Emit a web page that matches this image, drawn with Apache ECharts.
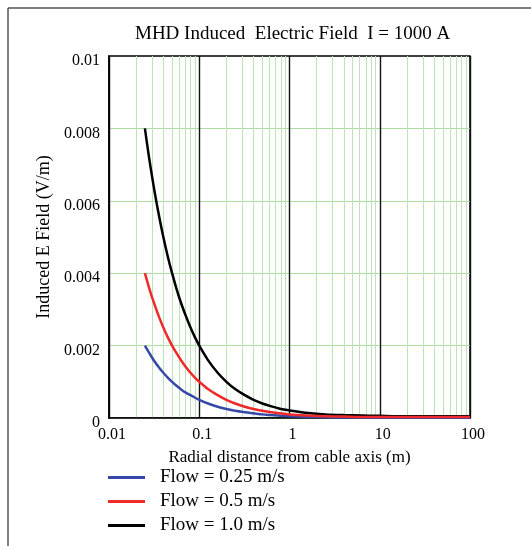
<!DOCTYPE html>
<html>
<head>
<meta charset="utf-8">
<script src="https://cdn.jsdelivr.net/npm/echarts@6/dist/echarts.min.js"></script>
<style>
html,body{margin:0;padding:0;background:#fff;}
#c{width:531px;height:546px;}
</style>
</head>
<body>
<div id="c"></div>
<script>
// Radial distance (m)
const radius = [0.025, 0.028, 0.032, 0.036, 0.04, 0.045, 0.05, 0.056, 0.063, 0.071, 0.08, 0.09, 0.1, 0.125, 0.16, 0.2, 0.25, 0.32, 0.4, 0.5, 0.63, 0.8, 1, 1.6, 2.5, 4, 6.3, 10, 16, 25, 40, 63, 100];
// Induced E field (V/m)
const flow100 = [0.0080, 0.00714, 0.00625, 0.00556, 0.0050, 0.00444, 0.0040, 0.00357, 0.00317, 0.00282, 0.0025, 0.00222, 0.0020, 0.0016, 0.00125, 0.0010, 0.0008, 0.00063, 0.0005, 0.0004, 0.00032, 0.00025, 0.00021, 0.00014, 0.0001, 0.00008, 0.00007, 0.00006, 0.00005, 0.00005, 0.00005, 0.00005, 0.00005];
const flow050 = [0.0040, 0.00357, 0.00313, 0.00278, 0.0025, 0.00222, 0.0020, 0.00179, 0.00159, 0.00141, 0.00125, 0.00111, 0.0010, 0.0008, 0.00063, 0.0005, 0.0004, 0.00031, 0.00025, 0.0002, 0.00016, 0.00013, 0.0001, 0.00007, 0.00005, 0.00004, 0.00003, 0.00003, 0.00003, 0.00003, 0.00003, 0.00003, 0.00003];
const flow025 = [0.0020, 0.00179, 0.00156, 0.00139, 0.00125, 0.00111, 0.0010, 0.00089, 0.00079, 0.0007, 0.00063, 0.00056, 0.0005, 0.0004, 0.00031, 0.00025, 0.0002, 0.00016, 0.00013, 0.0001, 0.00008, 0.00006, 0.00005, 0.00003, 0.00002, 0.000015, 0.00001, 0.00001, 0.00001, 0.00001, 0.00001, 0.00001, 0.00001];
const seriesNames = ['Flow = 0.25 m/s', 'Flow = 0.5 m/s', 'Flow = 1.0 m/s'];
const minorX = [0.02,0.03,0.04,0.05,0.06,0.07,0.08,0.09, 0.2,0.3,0.4,0.5,0.6,0.7,0.8,0.9, 2,3,4,5,6,7,8,9, 20,30,40,50,60,70,80,90];

const serif = '"Liberation Serif", "DejaVu Serif", serif';
const pair = (ys) => radius.map((r, i) => [r, ys[i]]);

const chart = echarts.init(document.getElementById('c'), null, {renderer: 'canvas'});
chart.setOption({
  animation: false,
  backgroundColor: '#fff',
  title: {
    text: 'MHD Induced  Electric Field  I = 1000 A',
    left: 135, top: 25, padding: 0,
    textStyle: {fontFamily: serif, fontSize: 19, fontWeight: 'normal', color: '#000'}
  },
  grid: {left: 109, right: 61, top: 56, bottom: 128, show: true, borderColor: '#000', borderWidth: 1.5, backgroundColor: 'transparent'},
  legend: {
    data: seriesNames,
    orient: 'vertical', left: 108, top: 468, padding: 0,
    icon: 'rect', itemWidth: 37, itemHeight: 3, itemGap: 5,
    textStyle: {fontFamily: serif, fontSize: 19, color: '#000', padding: [0,0,0,10]}
  },
  xAxis: {
    type: 'log', logBase: 10, min: 0.01, max: 100,
    name: 'Radial distance from cable axis (m)', nameLocation: 'middle', nameGap: 31,
    nameTextStyle: {fontFamily: serif, fontSize: 17, color: '#000'},
    axisLine: {show: true, onZero: false, lineStyle: {color: '#000', width: 1.5}},
    axisTick: {show: false},
    axisLabel: {fontFamily: serif, fontSize: 16, color: '#000', margin: 9, padding: [0,0,0,6],
      formatter: (v) => String(+v.toPrecision(6))},
    splitLine: {show: true, lineStyle: {color: '#111', width: 1.4}}
  },
  yAxis: {
    type: 'value', min: 0, max: 0.01, interval: 0.002,
    name: 'Induced E Field (V/m)', nameLocation: 'middle', nameGap: 52,
    nameTextStyle: {fontFamily: serif, fontSize: 18, color: '#000'},
    axisLine: {show: true, lineStyle: {color: '#000', width: 1.5}},
    axisTick: {show: false},
    axisLabel: {fontFamily: serif, fontSize: 16, color: '#000', margin: 9, verticalAlign: 'top', lineHeight: 10,
      formatter: (v) => String(+v.toPrecision(6))},
    splitLine: {show: true, showMaxLine: false, lineStyle: {color: '#acdca4', width: 1}}
  },
  graphic: [
    {type: 'line', shape: {x1: 8, y1: 8, x2: 531, y2: 8}, style: {stroke: '#555', lineWidth: 1.5}},
    {type: 'line', shape: {x1: 8, y1: 8, x2: 8, y2: 546}, style: {stroke: '#555', lineWidth: 1.5}}
  ],
  series: [
    {
      name: 'minor', type: 'line', data: [], silent: true, z: 0,
      markLine: {silent: true, symbol: 'none', label: {show: false}, z: 0,
        lineStyle: {color: '#bfe3b9', width: 1, type: 'solid'},
        data: minorX.map(v => ({xAxis: v}))}
    },
    {name: seriesNames[2], type: 'line', data: pair(flow100), symbol: 'none', smooth: 0.3, zlevel: 1, z: 3,
      lineStyle: {color: '#000', width: 2.5}, itemStyle: {color: '#000'}},
    {name: seriesNames[0], type: 'line', data: pair(flow025), symbol: 'none', smooth: 0.3, zlevel: 1, z: 4,
      lineStyle: {color: '#3648a8', width: 2.5}, itemStyle: {color: '#3648a8'}},
    {name: seriesNames[1], type: 'line', data: pair(flow050), symbol: 'none', smooth: 0.3, zlevel: 1, z: 5,
      lineStyle: {color: '#ee2a2a', width: 2.5}, itemStyle: {color: '#ee2a2a'}}
  ]
});
</script>
</body>
</html>
